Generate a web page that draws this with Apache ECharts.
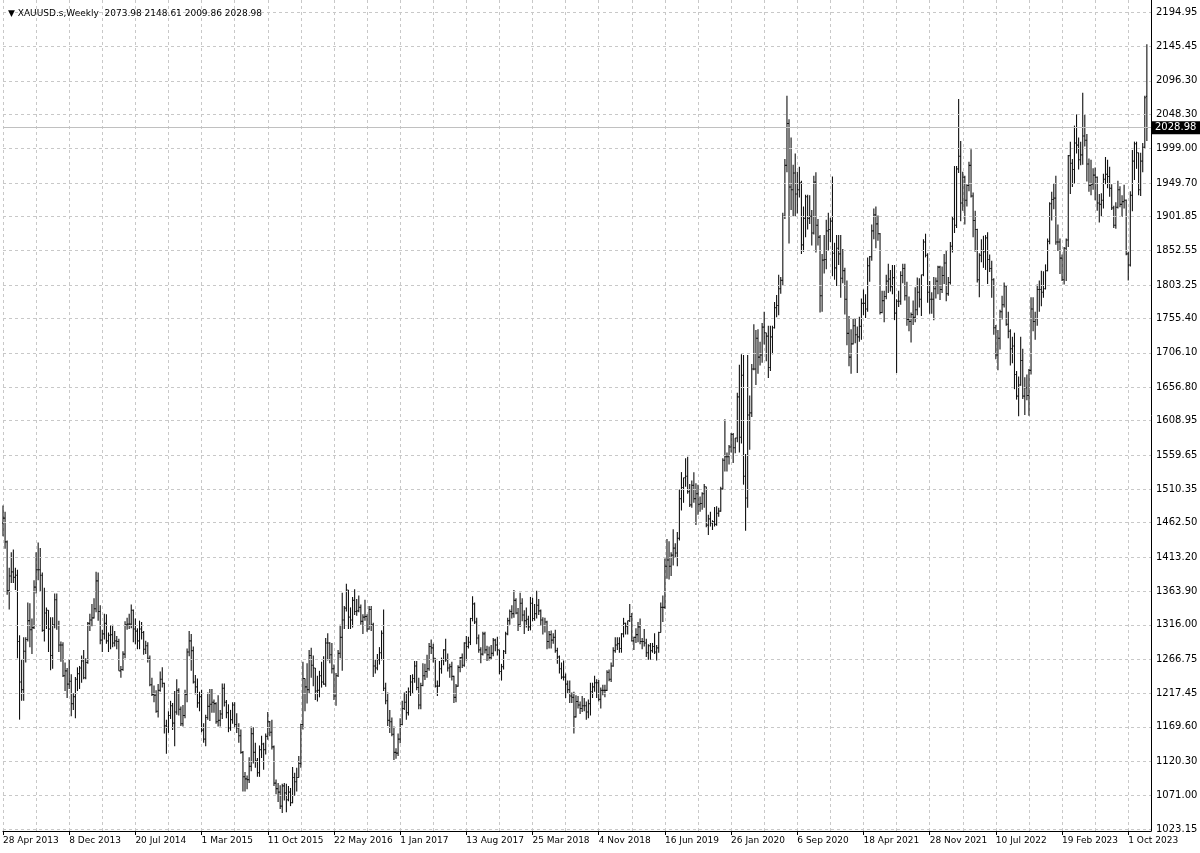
<!DOCTYPE html>
<html>
<head>
<meta charset="utf-8">
<script src="https://cdn.jsdelivr.net/npm/echarts@6/dist/echarts.min.js"></script>
<style>
html,body{margin:0;padding:0;background:#fff;}
#chart{width:1200px;height:853px;}
</style>
</head>
<body>
<div id="chart"></div>
<script>
// ---- data: weekly OHLC rows [open, high, low, close] ----
const symbolName = 'XAUUSD.s,Weekly';
const firstWeek = '2013-04-28';

const w2013 = [
[1462,1487,1443,1469],[1469,1478,1425,1435],[1435,1437,1359,1365],[1365,1398,1338,1386],
[1386,1420,1376,1392],[1392,1424,1376,1384],[1384,1398,1366,1387],[1387,1395,1268,1292],
[1292,1301,1180,1234],[1234,1267,1207,1223],[1223,1298,1207,1278],[1278,1298,1262,1295],
[1295,1348,1292,1322],[1322,1347,1284,1309],[1309,1325,1274,1312],[1312,1380,1310,1370],
[1370,1420,1361,1395],[1395,1434,1380,1395],[1395,1426,1363,1387],[1387,1391,1306,1308],
[1308,1369,1292,1333],[1333,1341,1310,1337],[1337,1337,1277,1310],[1310,1327,1251,1272],
[1272,1327,1253,1316],[1316,1361,1311,1352],[1352,1361,1309,1315],[1315,1322,1277,1287],
[1287,1292,1263,1287],[1287,1291,1241,1243],[1243,1262,1221,1250],[1250,1254,1211,1231],
[1231,1267,1224,1235],[1235,1245,1185,1203],[1203,1218,1194,1213],[1213,1241,1182,1238]
];
const w2014 = [
[1238,1255,1221,1246],[1246,1257,1224,1254],[1254,1272,1233,1264],[1264,1280,1238,1240],
[1240,1268,1238,1262],[1262,1320,1260,1318],[1318,1332,1307,1323],[1323,1346,1314,1326],
[1326,1354,1325,1339],[1339,1392,1334,1379],[1379,1391,1322,1335],[1335,1344,1288,1294],
[1294,1309,1277,1303],[1303,1332,1295,1318],[1318,1331,1289,1293],[1293,1305,1277,1301],
[1301,1315,1281,1302],[1302,1316,1284,1290],[1290,1307,1285,1293],[1293,1300,1281,1292],
[1292,1296,1250,1250],[1250,1257,1240,1252],[1252,1278,1250,1274],[1274,1321,1268,1316],
[1316,1326,1309,1317],[1317,1332,1310,1317],[1317,1345,1311,1337],[1337,1338,1291,1310],
[1310,1325,1288,1307],[1307,1311,1281,1293],[1293,1322,1281,1310],[1310,1320,1295,1305],
[1305,1307,1273,1281],[1281,1293,1274,1286],[1286,1291,1262,1268],[1268,1272,1228,1230],
[1230,1240,1214,1216],[1216,1229,1205,1215],[1215,1222,1190,1192],[1192,1231,1183,1222],
[1222,1249,1220,1238],[1238,1255,1226,1232],[1232,1233,1160,1171],[1171,1180,1131,1169],
[1169,1192,1161,1186],[1186,1207,1181,1200],[1200,1204,1165,1175],[1175,1221,1142,1191],
[1191,1238,1187,1222],[1222,1225,1186,1195],[1195,1199,1171,1174],[1174,1201,1170,1186]
];
const w2015 = [
[1186,1223,1182,1216],[1216,1282,1205,1277],[1277,1307,1271,1293],[1293,1303,1250,1279],
[1279,1285,1232,1234],[1234,1244,1216,1227],[1227,1239,1197,1204],[1204,1220,1192,1213],
[1213,1223,1162,1165],[1165,1175,1147,1152],[1152,1187,1142,1183],[1183,1219,1180,1199],
[1199,1224,1178,1202],[1202,1224,1190,1205],[1205,1209,1190,1203],[1203,1205,1174,1177],
[1177,1215,1170,1179],[1179,1194,1170,1188],[1188,1232,1181,1225],[1225,1232,1199,1205],
[1205,1208,1182,1190],[1190,1202,1162,1168],[1168,1194,1164,1180],[1180,1205,1174,1201],
[1201,1205,1169,1173],[1173,1189,1161,1168],[1168,1175,1147,1157],[1157,1166,1131,1133],
[1133,1135,1077,1098],[1098,1105,1077,1095],[1095,1100,1080,1094],[1094,1126,1089,1113],
[1113,1170,1106,1160],[1160,1169,1117,1133],[1133,1147,1111,1121],[1121,1125,1098,1104],
[1104,1143,1098,1137],[1137,1157,1125,1145],[1145,1147,1108,1137],[1137,1160,1130,1156],
[1156,1191,1151,1177],[1177,1178,1156,1162],[1162,1180,1137,1141],[1141,1143,1085,1089],
[1089,1094,1073,1081],[1081,1089,1062,1076],[1076,1086,1052,1056],[1056,1088,1046,1085],
[1085,1089,1064,1075],[1075,1088,1047,1065],[1065,1085,1063,1076],[1076,1082,1056,1061]
];
const w2016 = [
[1061,1112,1060,1097],[1097,1104,1071,1091],[1091,1111,1077,1097],[1097,1128,1097,1117],
[1117,1174,1111,1173],[1173,1263,1166,1239],[1239,1239,1192,1227],[1227,1261,1203,1223],
[1223,1280,1218,1272],[1272,1283,1240,1258],[1258,1272,1228,1254],[1254,1254,1208,1221],
[1221,1243,1206,1222],[1222,1250,1212,1243],[1243,1263,1226,1234],[1234,1271,1230,1231],
[1231,1297,1227,1290],[1290,1304,1265,1290],[1290,1291,1261,1273],[1273,1290,1246,1253],
[1253,1259,1208,1214],[1214,1247,1200,1243],[1243,1280,1241,1275],[1275,1316,1268,1298],
[1298,1362,1250,1323],[1323,1343,1310,1340],[1340,1375,1335,1366],[1366,1366,1310,1327],
[1327,1341,1310,1323],[1323,1356,1312,1351],[1351,1367,1330,1335],[1335,1353,1329,1336],
[1336,1358,1334,1341],[1341,1345,1316,1321],[1321,1331,1303,1327],[1327,1352,1322,1328],
[1328,1331,1306,1310],[1310,1343,1309,1338],[1338,1343,1307,1316],[1316,1319,1241,1257],
[1257,1266,1246,1254],[1254,1274,1251,1266],[1266,1284,1259,1276],[1276,1308,1265,1304],
[1304,1338,1221,1225],[1225,1233,1202,1207],[1207,1219,1171,1179],[1179,1194,1161,1177],
[1177,1183,1156,1159],[1159,1170,1122,1133],[1133,1139,1124,1132],[1132,1160,1128,1152]
];
const w2017 = [
[1152,1182,1146,1173],[1173,1207,1172,1196],[1196,1219,1194,1205],[1205,1221,1180,1190],
[1190,1226,1186,1220],[1220,1244,1214,1234],[1234,1245,1217,1239],[1239,1264,1233,1257],
[1257,1264,1222,1226],[1226,1240,1195,1201],[1201,1233,1195,1229],[1229,1261,1228,1243],
[1243,1260,1237,1249],[1249,1273,1240,1253],[1253,1290,1250,1285],[1285,1295,1274,1283],
[1283,1289,1262,1268],[1268,1268,1226,1228],[1228,1236,1214,1228],[1228,1264,1227,1253],
[1253,1269,1246,1266],[1266,1281,1258,1280],[1280,1296,1263,1266],[1266,1275,1249,1254],
[1254,1260,1240,1256],[1256,1263,1236,1242],[1242,1243,1204,1212],[1212,1231,1205,1228],
[1228,1258,1227,1255],[1255,1270,1248,1269],[1269,1275,1254,1258],[1258,1291,1256,1290],
[1290,1300,1265,1285],[1285,1299,1282,1291],[1291,1326,1287,1325],[1325,1357,1321,1346],
[1346,1348,1317,1320],[1320,1326,1288,1297],[1297,1302,1276,1280],[1280,1284,1261,1274],
[1274,1306,1272,1303],[1303,1306,1275,1280],[1280,1286,1264,1273],[1273,1285,1265,1269],
[1269,1287,1266,1275],[1275,1297,1271,1294],[1294,1296,1278,1287],[1287,1299,1272,1280],
[1280,1280,1245,1249],[1249,1260,1236,1256],[1256,1280,1252,1278],[1278,1306,1274,1303],
[1303,1326,1301,1322]
];
const w2018 = [
[1322,1338,1316,1335],[1335,1344,1325,1332],[1332,1366,1326,1351],[1351,1354,1331,1333],
[1333,1340,1307,1316],[1316,1362,1313,1347],[1347,1354,1321,1330],[1330,1337,1303,1322],
[1322,1341,1312,1324],[1324,1329,1307,1313],[1313,1356,1308,1347],[1347,1355,1321,1325],
[1325,1346,1322,1332],[1332,1365,1325,1344],[1344,1353,1330,1336],[1336,1338,1315,1323],
[1323,1327,1302,1315],[1315,1326,1305,1320],[1320,1322,1281,1292],[1292,1307,1282,1302],
[1302,1308,1282,1294],[1294,1304,1289,1298],[1298,1309,1276,1279],[1279,1283,1260,1270],
[1270,1272,1246,1253],[1253,1262,1238,1241],[1241,1265,1236,1241],[1241,1246,1211,1231],
[1231,1236,1218,1223],[1223,1236,1204,1214],[1214,1219,1204,1212],[1212,1220,1160,1184],
[1184,1215,1183,1206],[1206,1214,1196,1201],[1201,1206,1188,1196],[1196,1214,1191,1200],
[1200,1211,1192,1200],[1200,1206,1180,1191],[1191,1209,1182,1203],[1203,1233,1186,1220],
[1220,1233,1211,1227],[1227,1243,1220,1233],[1233,1238,1211,1233],[1233,1237,1206,1209],
[1209,1226,1196,1222],[1222,1230,1215,1222],[1222,1230,1212,1222],[1222,1251,1221,1248],
[1248,1252,1235,1238],[1238,1262,1234,1257],[1257,1284,1256,1279],[1279,1298,1276,1287]
];
const w2019 = [
[1287,1298,1280,1289],[1289,1298,1276,1282],[1282,1304,1276,1303],[1303,1326,1298,1318],
[1318,1319,1302,1314],[1314,1322,1302,1322],[1322,1346,1320,1328],[1328,1333,1292,1293],
[1293,1299,1280,1298],[1298,1311,1290,1302],[1302,1320,1291,1313],[1313,1325,1288,1292],
[1292,1297,1281,1292],[1292,1310,1285,1290],[1290,1296,1270,1276],[1276,1288,1266,1286],
[1286,1290,1266,1279],[1279,1290,1276,1285],[1285,1304,1274,1277],[1277,1287,1265,1283],
[1283,1306,1276,1305],[1305,1348,1305,1341],[1341,1358,1320,1341],[1341,1411,1339,1400],
[1400,1439,1382,1409],[1409,1436,1381,1400],[1400,1420,1386,1416],[1416,1453,1401,1426],
[1426,1433,1412,1419],[1419,1449,1400,1440],[1440,1510,1437,1497],[1497,1535,1480,1513],
[1513,1527,1491,1527],[1527,1555,1514,1529],[1529,1557,1504,1507],[1507,1518,1485,1488],
[1488,1523,1484,1516],[1516,1535,1491,1497],[1497,1519,1459,1504],[1504,1517,1474,1489],
[1489,1500,1478,1490],[1490,1506,1481,1504],[1504,1518,1484,1514],[1514,1514,1456,1459],
[1459,1474,1445,1468],[1468,1478,1457,1462],[1462,1466,1452,1464],[1464,1485,1457,1460],
[1460,1486,1458,1476],[1476,1484,1471,1479],[1479,1514,1478,1511],[1511,1555,1510,1552]
];
const w2020 = [
[1552,1611,1536,1557],[1557,1563,1536,1557],[1557,1574,1546,1571],[1571,1591,1563,1589],
[1589,1591,1548,1570],[1570,1584,1562,1584],[1584,1649,1578,1643],[1643,1689,1563,1585],
[1585,1704,1576,1674],[1674,1703,1517,1529],[1529,1561,1451,1498],[1498,1703,1484,1617],
[1617,1645,1567,1620],[1620,1690,1614,1683],[1683,1747,1681,1683],[1683,1739,1660,1727],
[1727,1740,1676,1700],[1700,1722,1688,1703],[1703,1749,1692,1743],[1743,1765,1718,1735],
[1735,1735,1694,1730],[1730,1745,1670,1685],[1685,1745,1680,1729],[1729,1745,1704,1742],
[1742,1779,1741,1771],[1771,1789,1757,1774],[1774,1818,1760,1798],[1798,1815,1791,1810],
[1810,1907,1803,1902],[1902,1984,1898,1975],[1975,2075,1965,2035],[2035,2041,1863,1944],
[1944,2015,1911,1940],[1940,1976,1902,1964],[1964,1992,1902,1934],[1934,1966,1906,1940],
[1940,1973,1929,1950],[1950,1953,1848,1861],[1861,1916,1851,1899],[1899,1933,1872,1930],
[1930,1933,1883,1899],[1899,1932,1891,1902],[1902,1911,1860,1878],[1878,1960,1876,1951],
[1951,1965,1850,1889],[1889,1898,1860,1872],[1872,1875,1764,1788],[1788,1848,1765,1839],
[1839,1875,1820,1840],[1840,1897,1826,1881],[1881,1907,1853,1883],[1883,1900,1865,1895]
];
const w2021 = [
[1895,1959,1816,1849],[1849,1864,1811,1828],[1828,1875,1802,1856],[1856,1875,1832,1848],
[1848,1875,1785,1813],[1813,1855,1806,1824],[1824,1828,1761,1783],[1783,1810,1717,1734],
[1734,1759,1687,1700],[1700,1740,1676,1719],[1719,1755,1718,1745],[1745,1756,1720,1732],
[1732,1744,1677,1729],[1729,1758,1722,1744],[1744,1784,1725,1777],[1777,1797,1760,1777],
[1777,1790,1756,1769],[1769,1843,1765,1831],[1831,1845,1808,1844],[1844,1890,1838,1881],
[1881,1913,1869,1904],[1904,1916,1856,1891],[1891,1903,1867,1877],[1877,1878,1761,1764],
[1764,1795,1763,1781],[1781,1795,1750,1787],[1787,1818,1783,1809],[1809,1834,1792,1812],
[1812,1825,1794,1801],[1801,1832,1790,1814],[1814,1832,1753,1763],[1763,1783,1677,1780],
[1780,1795,1772,1780],[1780,1823,1775,1817],[1817,1834,1806,1827],[1827,1834,1781,1788],
[1788,1808,1745,1754],[1754,1787,1737,1751],[1751,1764,1721,1761],[1761,1781,1746,1757],
[1757,1800,1750,1768],[1768,1814,1760,1793],[1793,1813,1771,1783],[1783,1818,1759,1818],
[1818,1869,1816,1865],[1865,1877,1843,1846],[1846,1849,1778,1793],[1793,1809,1762,1783],
[1783,1793,1762,1783],[1783,1815,1753,1798],[1798,1814,1784,1809],[1809,1831,1790,1829]
];
const w2022 = [
[1829,1831,1782,1797],[1797,1830,1792,1817],[1817,1848,1805,1835],[1835,1853,1780,1791],
[1791,1815,1788,1807],[1807,1865,1804,1859],[1859,1902,1850,1898],[1898,1974,1878,1889],
[1889,1974,1885,1970],[1970,2070,1964,1988],[1988,2010,1895,1921],[1921,1966,1910,1958],
[1958,1960,1890,1925],[1925,1948,1916,1946],[1946,1980,1938,1975],[1975,1998,1929,1931],
[1931,1936,1872,1896],[1896,1910,1851,1883],[1883,1884,1807,1811],[1811,1849,1786,1846],
[1846,1869,1836,1853],[1853,1874,1828,1851],[1851,1875,1825,1871],[1871,1879,1805,1840],
[1840,1847,1822,1827],[1827,1838,1785,1811],[1811,1813,1732,1742],[1742,1746,1697,1703],
[1703,1739,1681,1727],[1727,1768,1711,1765],[1765,1788,1754,1775],[1775,1807,1771,1802],
[1802,1803,1745,1747],[1747,1765,1727,1737],[1737,1740,1688,1712],[1712,1729,1691,1716],
[1716,1735,1654,1675],[1675,1680,1639,1644],[1644,1672,1615,1660],[1660,1729,1659,1695],
[1695,1712,1640,1644],[1644,1671,1617,1656],[1656,1675,1638,1645],[1645,1683,1616,1681],
[1681,1786,1675,1769],[1769,1786,1737,1751],[1751,1765,1725,1755],[1755,1804,1745,1797],
[1797,1810,1765,1797],[1797,1824,1773,1793],[1793,1823,1785,1798],[1798,1833,1797,1824]
];
const w2023 = [
[1824,1870,1823,1866],[1866,1922,1862,1920],[1920,1937,1896,1926],[1926,1949,1912,1928],
[1928,1960,1861,1865],[1865,1890,1852,1865],[1865,1870,1819,1842],[1842,1847,1809,1811],
[1811,1858,1804,1856],[1856,1870,1809,1868],[1868,1990,1858,1989],[1989,2009,1934,1978],
[1978,1984,1944,1969],[1969,2032,1949,2007],[2007,2048,1992,2004],[2004,2015,1969,1983],
[1983,2009,1975,1990],[1990,2079,1976,2017],[2017,2048,2002,2011],[2011,2020,1952,1977],
[1977,1985,1937,1946],[1946,1983,1932,1948],[1948,1971,1940,1961],[1961,1972,1925,1958],
[1958,1959,1910,1921],[1921,1934,1893,1919],[1919,1935,1902,1925],[1925,1963,1913,1955],
[1955,1987,1948,1962],[1962,1983,1942,1959],[1959,1973,1930,1942],[1942,1948,1911,1914],
[1914,1917,1885,1889],[1889,1922,1884,1915],[1915,1953,1913,1940],[1940,1945,1915,1919],
[1919,1932,1901,1923],[1923,1947,1913,1925],[1925,1926,1846,1848],[1848,1851,1810,1832],
[1832,1938,1830,1932],[1932,1997,1909,1981],[1981,2009,1954,2006],[2006,2009,1970,1993],
[1993,1993,1932,1940],[1940,1993,1931,1981],[1981,2007,1965,2001],[2001,2075,1999,2072],
[2073.98,2148.61,2009.86,2028.98]
];

// price-scale tick labels shown on the right axis
const yTicks = [2194.95,2145.45,2096.30,2048.30,1999.00,1949.70,1901.85,1852.55,1803.25,1755.40,
  1706.10,1656.80,1608.95,1559.65,1510.35,1462.50,1413.20,1363.90,1316.00,1266.75,1217.45,
  1169.60,1120.30,1071.00,1023.15];
const yAxisMin = 1020.28, yAxisMax = 2212.16;
const labelEvery = 32, gridEvery = 16;

// ---- build ----
const bars = [].concat(w2013,w2014,w2015,w2016,w2017,w2018,w2019,w2020,w2021,w2022,w2023);
const MON = ['Jan','Feb','Mar','Apr','May','Jun','Jul','Aug','Sep','Oct','Nov','Dec'];
const categories = [];
const t0 = Date.parse(firstWeek + 'T00:00:00Z');
for (let i = 0; i < bars.length; i++) {
  const d = new Date(t0 + i * 7 * 86400000);
  categories.push(d.getUTCDate() + ' ' + MON[d.getUTCMonth()] + ' ' + d.getUTCFullYear());
}
categories.push('', ''); // chart shift space on the right
const seriesData = bars.map((b, i) => [i, b[0], b[1], b[2], b[3]]);
const last = bars[bars.length - 1];
const lastClose = last[3];

const FONT = '"DejaVu Sans", sans-serif';
const chart = echarts.init(document.getElementById('chart'), null, {renderer: 'canvas'});

const markData = yTicks.map(v => ({
  yAxis: v,
  lineStyle: {color: '#c8c8c8', type: [3, 3], width: 1},
  label: {show: true, position: 'end', distance: 5, formatter: () => v.toFixed(2),
          color: '#000', fontSize: 10, fontFamily: FONT}
}));

chart.setOption({
  animation: false,
  backgroundColor: '#fff',
  title: {
    text: '▼ ' + symbolName + '  ' + last.map(v => v.toFixed(2)).join(' '),
    left: 3, top: 4,
    textStyle: {fontSize: 9, fontWeight: 'normal', color: '#000', fontFamily: FONT}
  },
  grid: {left: 3, right: 49, top: 0, bottom: 22, containLabel: false},
  xAxis: {
    type: 'category', data: categories, boundaryGap: false,
    axisLine: {show: true, lineStyle: {color: '#000', width: 1}},
    axisTick: {show: true, length: 4, interval: (i) => i % labelEvery === 0, lineStyle: {color: '#000'}},
    axisLabel: {show: true, interval: (i) => i % labelEvery === 0, align: 'left', margin: 5,
                color: '#000', fontSize: 9, fontFamily: FONT},
    splitLine: {show: true, interval: (i) => i % gridEvery === 0,
                lineStyle: {color: '#c8c8c8', type: [3, 3], width: 1}}
  },
  yAxis: {
    type: 'value', position: 'right', min: yAxisMin, max: yAxisMax, scale: true,
    axisLine: {show: true, lineStyle: {color: '#000', width: 1}},
    axisTick: {show: false}, axisLabel: {show: false}, splitLine: {show: false}
  },
  series: [
    {
      type: 'line', data: [], z: 1, silent: true,
      markLine: {
        silent: true, symbol: ['none', 'none'], animation: false,
        data: markData.concat([{
          yAxis: lastClose,
          lineStyle: {color: '#c0c0c0', type: 'solid', width: 1},
          label: {show: true, position: 'end', distance: 0, formatter: () => lastClose.toFixed(2),
                  color: '#fff', backgroundColor: '#000', padding: [2, 4, 1, 4],
                  fontSize: 10, fontFamily: FONT}
        }])
      }
    },
    {
      type: 'custom', z: 3, silent: true,
      data: seriesData,
      encode: {x: 0, y: [1, 2, 3, 4]},
      renderItem: function (params, api) {
        const i = api.value(0);
        const pH = api.coord([i, api.value(2)]);
        const pL = api.coord([i, api.value(3)]);
        const yO = api.coord([i, api.value(1)])[1];
        const yC = api.coord([i, api.value(4)])[1];
        const x = pH[0];
        const st = {stroke: '#111', lineWidth: 1.1};
        return {
          type: 'group',
          children: [
            {type: 'line', shape: {x1: x, y1: pH[1], x2: x, y2: pL[1]}, style: st},
            {type: 'line', shape: {x1: x - 1, y1: yO, x2: x, y2: yO}, style: st},
            {type: 'line', shape: {x1: x, y1: yC, x2: x + 1, y2: yC}, style: st}
          ]
        };
      }
    }
  ]
});
</script>
</body>
</html>
